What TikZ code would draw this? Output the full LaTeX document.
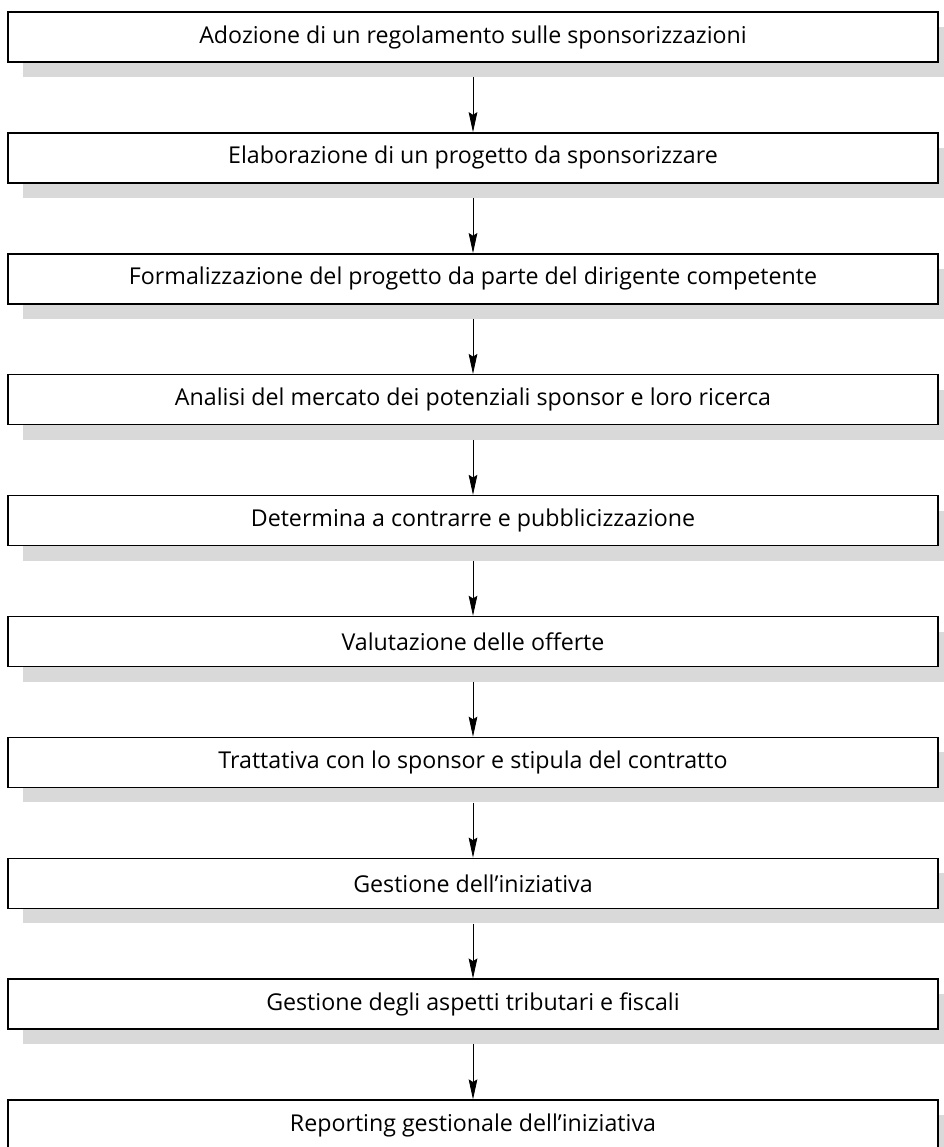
\documentclass[tikz,border=0pt]{standalone}
\usepackage{fontspec}
\setmainfont{Open Sans}
\usetikzlibrary{arrows.meta,positioning}
\definecolor{shadowgray}{HTML}{D9D9D9}

\tikzset{
  stepbox/.style={draw=black, line width=1.1pt, fill=white, minimum width=697.5pt, minimum height=37.5pt, inner sep=0pt, font=\fontsize{17.4}{20}\selectfont},
  shadowbox/.style={fill=shadowgray, minimum width=697.5pt, minimum height=37.5pt, inner sep=0pt},
  flowarrow/.style={-{Stealth[length=15pt,width=6.5pt,inset=2pt]}, line width=0.6pt}
}

\begin{document}
\begin{tikzpicture}[x=0.75pt,y=0.75pt]
  \useasboundingbox (0,0) rectangle (944,-1147);
  % steps of the procedure, shadow first
  \foreach \txt [count=\i] in {Adozione di un regolamento sulle sponsorizzazioni,
      Elaborazione di un progetto da sponsorizzare,
      Formalizzazione del progetto da parte del dirigente competente,
      Analisi del mercato dei potenziali sponsor e loro ricerca,
      Determina a contrarre e pubblicizzazione,
      Valutazione delle offerte,
      Trattativa con lo sponsor e stipula del contratto,
      Gestione dell'iniziativa,
      Gestione degli aspetti tributari e fiscali,
      Reporting gestionale dell'iniziativa} {
    \node[shadowbox] (s\i) at (488,{-52-120.9*(\i-1)}) {};
    \node[stepbox] (b\i) at (473,{-37-120.9*(\i-1)}) {\txt};
  }
  % arrows between the steps
  \foreach \i [evaluate=\i as \j using int(\i+1)] in {1,...,9}
    \draw[flowarrow] (s\i.south -| b\j.north) -- (b\j.north);
\end{tikzpicture}
\end{document}
